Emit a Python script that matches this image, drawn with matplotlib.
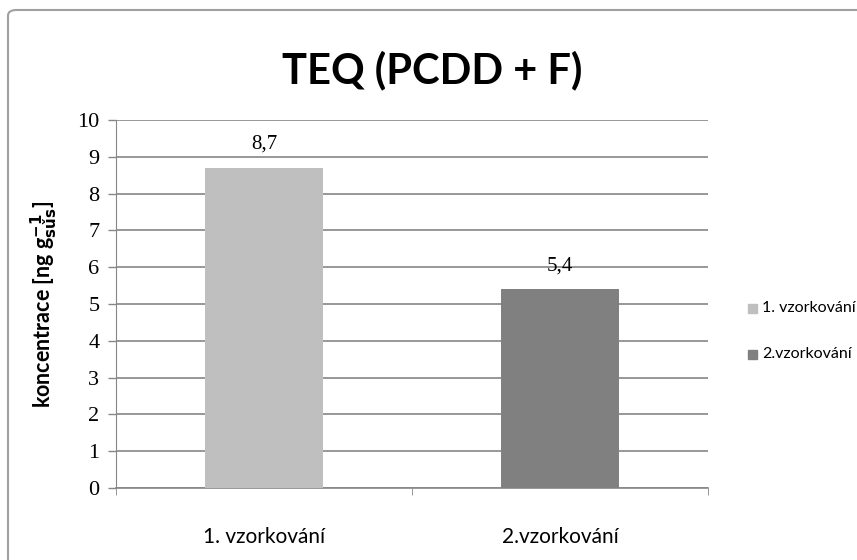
import numpy as np
import matplotlib
matplotlib.use("Agg")
import matplotlib.pyplot as plt
from matplotlib.patches import FancyBboxPatch

# data
categories = ["1. vzorkování", "2.vzorkování"]
values = [8.7, 5.4]
value_labels = ["8,7", "5,4"]
colors = ["#BFBFBF", "#808080"]
yticks = list(range(0, 11))

fig = plt.figure(figsize=(8.57, 5.6), dpi=100)
ax = fig.add_axes([116/857, 1 - 488/560, (708-116)/857, (488-120)/560])

x = np.arange(len(categories))
bars = ax.bar(x, values, width=0.4, color=colors, zorder=3)

ax.set_xlim(-0.5, 1.5)
ax.set_ylim(0, 10)
ax.set_yticks(yticks)
ax.set_yticklabels([str(t) for t in yticks], family="Liberation Serif", fontsize=16)
ax.set_xticks(x)
ax.set_xticklabels(categories, family="Lato", fontsize=15)
ax.tick_params(axis="x", length=0, pad=28)
ax.tick_params(axis="y", length=6, width=1, color="#868686", pad=6)
ax.set_xticks([-0.5, 0.5, 1.5], minor=True)
ax.tick_params(axis="x", which="minor", length=5, color="#868686")

ax.yaxis.grid(True, color="#868686", linewidth=1.2, zorder=0)
for s in ["top", "right"]:
    ax.spines[s].set_visible(False)
ax.spines["left"].set_color("#868686")
ax.spines["bottom"].set_color("#868686")
ax.spines["bottom"].set_linewidth(1.2)

for b, lab in zip(bars, value_labels):
    ax.annotate(lab, (b.get_x() + b.get_width()/2, b.get_height()),
                xytext=(0, 10), textcoords="offset points", ha="center", va="bottom",
                family="Liberation Serif", fontsize=15)

ax.set_ylabel(r"koncentrace [ng g$_{\mathbf{su\check{s}}}^{\mathbf{-1}}$]",
              fontsize=15.5, fontweight="bold", family="Lato", labelpad=12)

fig.text(432/857, 1 - 70/560, "TEQ (PCDD + F)", ha="center", va="center",
         fontsize=30, fontweight="bold", family="Lato")

# legend
leg_y = [308, 354]
for c, lab, yy in zip(colors, categories, leg_y):
    fig.patches.append(plt.Rectangle((748/857, 1 - (yy+5)/560), 9/857, 9/560,
                                     color=c, transform=fig.transFigure))
    fig.text(762/857, 1 - yy/560, lab, ha="left", va="center", fontsize=11.5, family="Lato")

# chart border
fig.patches.append(FancyBboxPatch((8/857, -0.05), 1.05, 1 - 10/560 + 0.05,
                                  boxstyle="round,pad=0,rounding_size=0.01",
                                  transform=fig.transFigure, fill=False,
                                  edgecolor="#A0A0A0", linewidth=1.5))

fig.savefig("out.png", dpi=100)
